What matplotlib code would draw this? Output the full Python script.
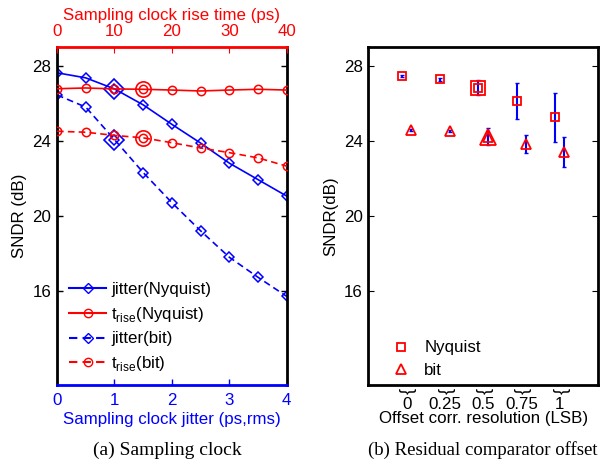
import matplotlib
matplotlib.use("Agg")
import matplotlib.pyplot as plt
from matplotlib.lines import Line2D

plt.rcParams['font.family'] = ['Liberation Sans', 'DejaVu Sans']
plt.rcParams['mathtext.fontset'] = 'custom'
plt.rcParams['mathtext.rm'] = 'Liberation Sans'

# ---- data: panel (a)
jitter = [0, 0.5, 1, 1.5, 2, 2.5, 3, 3.5, 4]
jitter_nyq = [27.65, 27.38, 26.79, 25.94, 24.90, 23.90, 22.83, 21.95, 21.07]
jitter_bit = [26.47, 25.82, 24.09, 22.33, 20.72, 19.22, 17.81, 16.74, 15.72]
trise = [0, 5, 10, 15, 20, 25, 30, 35, 40]
trise_nyq = [26.80, 26.84, 26.79, 26.77, 26.73, 26.68, 26.73, 26.77, 26.73]
trise_bit = [24.53, 24.48, 24.31, 24.18, 23.92, 23.64, 23.39, 23.11, 22.67]
jitter_hl = 1
trise_hl = 15
yticks = [16, 20, 24, 28]

# ---- data: panel (b)
offset_labels = ['0', '0.25', '0.5', '0.75', '1']
nyq_mean = [27.47, 27.30, 26.86, 26.15, 25.27]
nyq_err = [0.05, 0.09, 0.42, 0.94, 1.32]
bit_mean = [24.60, 24.53, 24.25, 23.85, 23.43]
bit_err = [0.05, 0.06, 0.44, 0.46, 0.79]
offset_hl = 2

BLUE = (0, 0, 1)
RED = (1, 0, 0)
FS = 12.2

fig = plt.figure(figsize=(6.0, 4.61), dpi=100)

# ---------------- panel (a)
ax = fig.add_axes([0.095, 0.165, 0.383, 0.732])
ax.plot(jitter, jitter_nyq, '-', color=BLUE, lw=1.2, marker='D', ms=5, mfc='none', mew=1.1)
ax.plot(jitter, jitter_bit, '--', color=BLUE, lw=1.2, marker='D', ms=5, mfc='none', mew=1.1,
        dashes=(4, 2.5))
i = jitter.index(jitter_hl)
ax.plot([jitter[i], jitter[i]], [jitter_nyq[i], jitter_bit[i]], ls='none', marker='D',
        ms=10, mfc='none', mec=BLUE, mew=1.2)
ax.set_xlim(0, 4)
ax.set_ylim(11, 29)
ax.set_yticks(yticks)
ax.set_xticks([0, 1, 2, 3, 4])
ax.tick_params(axis='both', direction='in', labelsize=FS, length=4, width=1)
ax.tick_params(axis='x', colors=BLUE, labelcolor=BLUE, pad=6)
ax.tick_params(axis='y', right=True, pad=4)
ax.set_xlabel('Sampling clock jitter (ps,rms)', color=BLUE, fontsize=FS, labelpad=3)
ax.set_ylabel('SNDR (dB)', fontsize=FS, labelpad=4)
for s in ['left', 'right']:
    ax.spines[s].set_linewidth(2)
ax.spines['bottom'].set_color(BLUE)
ax.spines['bottom'].set_linewidth(2)

ax2 = ax.twiny()
ax2.plot(trise, trise_nyq, '-', color=RED, lw=1.2, marker='o', ms=6, mfc='none', mew=1.1)
ax2.plot(trise, trise_bit, '--', color=RED, lw=1.2, marker='o', ms=6, mfc='none', mew=1.1,
         dashes=(4, 2.5))
k = trise.index(trise_hl)
ax2.plot([trise[k], trise[k]], [trise_nyq[k], trise_bit[k]], ls='none', marker='o',
         ms=11, mfc='none', mec=RED, mew=1.2)
ax2.set_xlim(0, 40)
ax2.set_xticks([0, 10, 20, 30, 40])
ax2.tick_params(axis='x', direction='in', colors=RED, labelcolor=RED, labelsize=FS, length=4, pad=6)
ax2.set_xlabel('Sampling clock rise time (ps)', color=RED, fontsize=FS, labelpad=3)
ax2.spines['top'].set_color(RED)
ax2.spines['top'].set_linewidth(2)
for s in ['left', 'right', 'bottom']:
    ax2.spines[s].set_visible(False)

handles = [
    Line2D([], [], ls='-', color=BLUE, marker='D', ms=5, mfc='none'),
    Line2D([], [], ls='-', color=RED, marker='o', ms=6, mfc='none'),
    Line2D([], [], ls='--', color=BLUE, marker='D', ms=5, mfc='none', dashes=(4, 2.5)),
    Line2D([], [], ls='--', color=RED, marker='o', ms=6, mfc='none', dashes=(4, 2.5)),
]
labels = ['jitter(Nyquist)', r't$_{\rm rise}$(Nyquist)', 'jitter(bit)', r't$_{\rm rise}$(bit)']
ax2.legend(handles, labels, loc='lower left', bbox_to_anchor=(0.0, 0.0), frameon=False,
           fontsize=FS, handlelength=2.2, handletextpad=0.3, labelspacing=0.45, borderaxespad=0.3)

fig.text(0.279, 0.004, '(a) Sampling clock', ha='center', va='bottom',
         fontsize=14, family='Liberation Serif')

# ---------------- panel (b)
bx = fig.add_axes([0.614, 0.165, 0.383, 0.732])
pos = list(range(1, len(offset_labels) + 1))
px_n = [p - 0.13 for p in pos]
px_b = [p + 0.12 for p in pos]
bx.errorbar(px_n, nyq_mean, yerr=nyq_err, fmt='none', ecolor=BLUE, elinewidth=1.5, capsize=1.5)
bx.errorbar(px_b, bit_mean, yerr=bit_err, fmt='none', ecolor=BLUE, elinewidth=1.5, capsize=1.5)
bx.plot(px_n, nyq_mean, ls='none', marker='s', ms=6, mfc='none', mec=RED, mew=1.3)
bx.plot(px_b, bit_mean, ls='none', marker='^', ms=6.5, mfc='none', mec=RED, mew=1.3)
bx.plot([px_n[offset_hl]], [nyq_mean[offset_hl]], ls='none', marker='s', ms=10, mfc='none', mec=RED, mew=1.3)
bx.plot([px_b[offset_hl]], [bit_mean[offset_hl]], ls='none', marker='^', ms=12, mfc='none', mec=RED, mew=1.3)
bx.set_xlim(0, len(pos) + 1)
bx.set_ylim(11, 29)
bx.set_yticks(yticks)
bx.set_xticks(pos)
bx.set_xticklabels(offset_labels)
bx.tick_params(axis='y', direction='in', right=True, labelsize=FS, length=4, pad=4)
bx.tick_params(axis='x', length=0, labelsize=FS, pad=9)
bx.set_xlabel('Offset corr. resolution (LSB)', fontsize=FS, labelpad=-1)
bx.set_ylabel('SNDR(dB)', fontsize=FS, labelpad=4)
for s in bx.spines.values():
    s.set_linewidth(2)
for p in pos:
    bx.annotate('}', xy=(p, 0), xycoords=('data', 'axes fraction'), xytext=(0, -2),
                textcoords='offset points', rotation=-90, ha='center', va='top', fontsize=13)

leg_h = [Line2D([], [], ls='none', marker='s', ms=6, mfc='none', mec=RED, mew=1.3),
         Line2D([], [], ls='none', marker='^', ms=6.5, mfc='none', mec=RED, mew=1.3)]
bx.legend(leg_h, ['Nyquist', 'bit'], loc='lower left', bbox_to_anchor=(0.0, -0.025), frameon=False,
          fontsize=FS, handlelength=2.0, handletextpad=0.4, labelspacing=0.45)

fig.text(0.996, 0.004, '(b) Residual comparator offset', ha='right', va='bottom',
         fontsize=13.5, family='Liberation Serif')

fig.savefig('out.png', dpi=100)
